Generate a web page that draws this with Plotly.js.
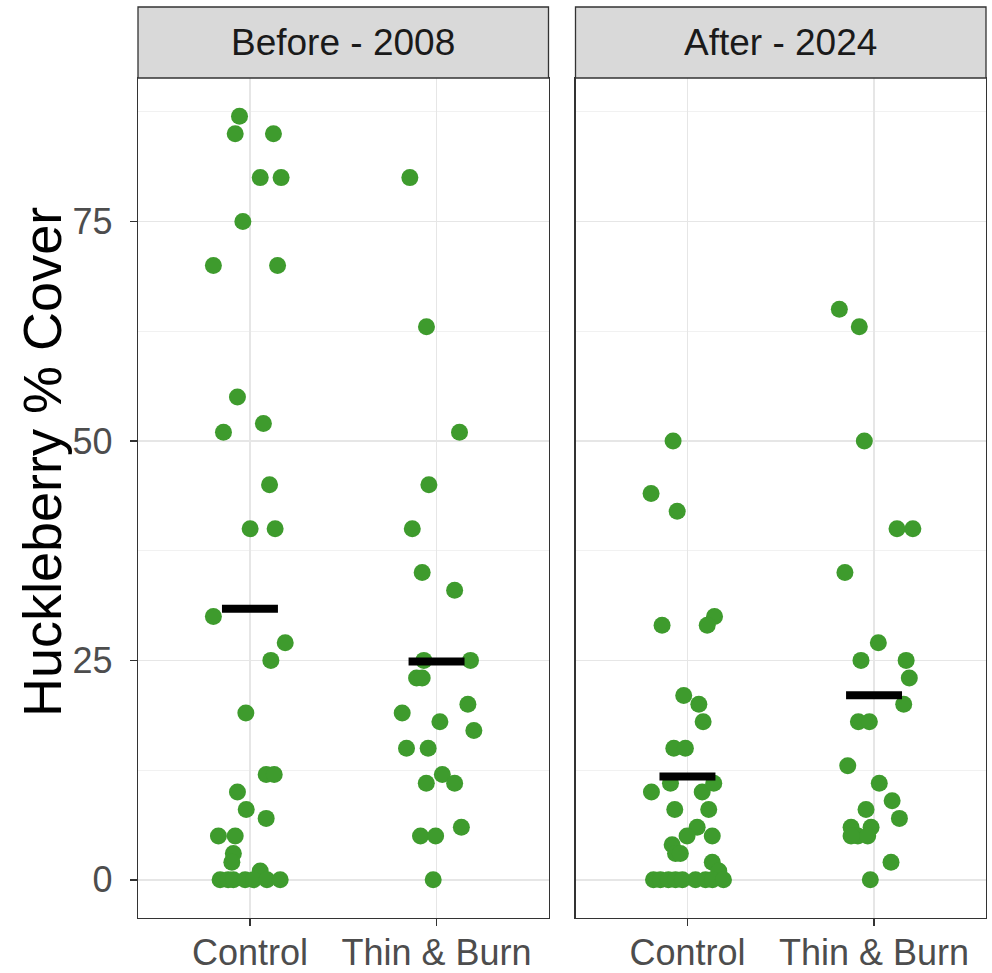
<!DOCTYPE html>
<html>
<head>
<meta charset="utf-8">
<script src="https://cdn.plot.ly/plotly-3.0.1.min.js"></script>
<style>html,body{margin:0;padding:0;background:#fff;}#chart{width:992px;height:973px;}</style>
</head>
<body>
<div id="chart"></div>
<script>
// ---- Data ----
const categories = ["Control", "Thin & Burn"];
const panels = ["Before - 2008", "After - 2024"];
const yTicks = [0, 25, 50, 75];
const yTitle = "Huckleberry % Cover";

// Before - 2008, Control
const beforeControlY = [87, 85, 85, 80, 80, 75, 70, 70, 55, 52, 51, 45, 40, 40, 30, 27, 25, 19, 12, 12, 10, 8, 7, 5, 5, 3, 2, 1, 0, 0, 0, 0, 0, 0, 0];
const beforeControlJitter = [-0.056, -0.079, 0.126, 0.055, 0.167, -0.038, -0.196, 0.148, -0.067, 0.072, -0.142, 0.105, 0.001, 0.135, -0.196, 0.189, 0.112, -0.022, 0.087, 0.130, -0.067, -0.020, 0.087, -0.169, -0.079, -0.089, -0.097, 0.055, -0.160, -0.117, -0.089, -0.026, 0.019, 0.091, 0.162];

// Before - 2008, Thin & Burn
const beforeBurnY = [80, 63, 51, 45, 40, 35, 33, 25, 25, 23, 23, 19, 20, 18, 17, 15, 15, 12, 11, 11, 6, 5, 5, 0];
const beforeBurnJitter = [-0.143, -0.054, 0.123, -0.041, -0.130, -0.077, 0.097, -0.068, 0.182, -0.107, -0.077, -0.184, 0.168, 0.018, 0.200, -0.161, -0.045, 0.031, -0.055, 0.097, 0.133, -0.086, -0.005, -0.018];

// After - 2024, Control
const afterControlY = [50, 44, 42, 30, 29, 29, 21, 20, 18, 15, 15, 11, 10, 10, 11, 8, 8, 6, 5, 5, 4, 3, 3, 2, 1, 0, 0, 0, 0, 0, 0, 0, 0, 0];
const afterControlJitter = [-0.077, -0.195, -0.055, 0.145, -0.136, 0.106, -0.020, 0.061, 0.084, -0.073, -0.011, -0.091, -0.193, 0.079, 0.141, -0.068, 0.114, 0.052, -0.002, 0.133, -0.082, -0.064, -0.038, 0.133, 0.168, -0.182, -0.145, -0.102, -0.064, -0.027, 0.043, 0.097, 0.134, 0.193];

// After - 2024, Thin & Burn
const afterBurnY = [65, 63, 50, 40, 40, 35, 27, 25, 25, 23, 20, 18, 18, 13, 11, 9, 8, 7, 6, 5, 6, 5, 5, 2, 0];
const afterBurnJitter = [-0.186, -0.079, -0.052, 0.123, 0.208, -0.156, 0.023, -0.070, 0.172, 0.189, 0.159, -0.084, -0.025, -0.141, 0.028, 0.097, -0.043, 0.136, -0.123, -0.087, -0.016, -0.034, -0.123, 0.091, -0.020];

// ---- Build ----
const GREEN = "rgb(62,155,45)";
const FONT = "Liberation Sans, Arial, Helvetica, sans-serif";
const HALF = 0.15;

function mean(a) { return a.reduce((s, v) => s + v, 0) / a.length; }

const groups = [
  {y: beforeControlY, j: beforeControlJitter, cat: 1, xa: "x", ya: "y"},
  {y: beforeBurnY, j: beforeBurnJitter, cat: 2, xa: "x", ya: "y"},
  {y: afterControlY, j: afterControlJitter, cat: 1, xa: "x2", ya: "y2"},
  {y: afterBurnY, j: afterBurnJitter, cat: 2, xa: "x2", ya: "y2"}
];

const traces = [];
groups.forEach(g => {
  traces.push({
    type: "scatter", mode: "markers",
    x: g.j.map(d => g.cat + d), y: g.y,
    xaxis: g.xa, yaxis: g.ya,
    marker: {color: GREEN, size: 17, line: {width: 0}},
    hoverinfo: "y", showlegend: false
  });
});
groups.forEach(g => {
  const m = mean(g.y);
  traces.push({
    type: "scatter", mode: "lines",
    x: [g.cat - HALF, g.cat + HALF], y: [m, m],
    xaxis: g.xa, yaxis: g.ya,
    line: {color: "#000", width: 8},
    hoverinfo: "y", showlegend: false
  });
});

const xCommon = {
  range: [0.4, 2.6], tickvals: [1, 2], ticktext: categories,
  showgrid: true, gridcolor: "#e6e6e6", gridwidth: 1.6, zeroline: false,
  showline: true, mirror: true, linecolor: "#333", linewidth: 1.3,
  ticks: "outside", ticklen: 7, tickwidth: 1.5, tickcolor: "#333",
  ticklabelstandoff: -5,
  tickfont: {family: FONT, size: 36, color: "#4d4d4d"}, fixedrange: true
};
const yCommon = {
  range: [-4.35, 91.35], tickvals: yTicks, ticktext: yTicks.map(String),
  showgrid: true, gridcolor: "#e6e6e6", gridwidth: 1.6, zeroline: false,
  minor: {tickvals: [12.5, 37.5, 62.5, 87.5], showgrid: true, gridcolor: "#f1f1f1", gridwidth: 1, ticks: ""},
  showline: true, mirror: true, linecolor: "#333", linewidth: 1.3,
  fixedrange: true
};

const W = 992, H = 973;
const ml = 138, mr = 6, mt = 78, mb = 55;
const plotW = W - ml - mr, plotH = H - mt - mb;
const gapPx = 27;
const d1 = (plotW - gapPx) / 2 / plotW;
const stripTop = 1 + 71 / plotH;

const layout = {
  width: W, height: H,
  margin: {l: ml, r: mr, t: mt, b: mb, pad: 0},
  paper_bgcolor: "#fff", plot_bgcolor: "#fff",
  font: {family: FONT},
  showlegend: false,
  xaxis: Object.assign({}, xCommon, {domain: [0, d1], anchor: "y"}),
  xaxis2: Object.assign({}, xCommon, {domain: [1 - d1, 1], anchor: "y2"}),
  yaxis: Object.assign({}, yCommon, {
    domain: [0, 1], anchor: "x",
    ticks: "outside", ticklen: 7, tickwidth: 1.5, tickcolor: "#333",
    tickfont: {family: FONT, size: 36, color: "#4d4d4d"},
    ticklabelstandoff: 10
  }),
  yaxis2: Object.assign({}, yCommon, {domain: [0, 1], anchor: "x2", showticklabels: false, ticks: ""}),
  shapes: [
    {type: "rect", xref: "x domain", yref: "paper", x0: 0, x1: 1, y0: 1, y1: stripTop,
     fillcolor: "#d9d9d9", line: {color: "#333", width: 1.3}, layer: "above"},
    {type: "rect", xref: "x2 domain", yref: "paper", x0: 0, x1: 1, y0: 1, y1: stripTop,
     fillcolor: "#d9d9d9", line: {color: "#333", width: 1.3}, layer: "above"}
  ],
  annotations: [
    {text: panels[0], xref: "x domain", yref: "paper", x: 0.5, y: (1 + stripTop) / 2,
     showarrow: false, xanchor: "center", yanchor: "middle",
     font: {family: FONT, size: 37, color: "#1a1a1a"}},
    {text: panels[1], xref: "x2 domain", yref: "paper", x: 0.5, y: (1 + stripTop) / 2,
     showarrow: false, xanchor: "center", yanchor: "middle",
     font: {family: FONT, size: 37, color: "#1a1a1a"}},
    {text: yTitle, xref: "paper", yref: "paper", x: (42 - ml) / plotW, y: (918 - 462) / plotH,
     textangle: -90, showarrow: false, xanchor: "center", yanchor: "middle",
     font: {family: FONT, size: 54, color: "#000"}}
  ]
};

Plotly.newPlot("chart", traces, layout, {displayModeBar: false, staticPlot: true});
</script>
</body>
</html>
